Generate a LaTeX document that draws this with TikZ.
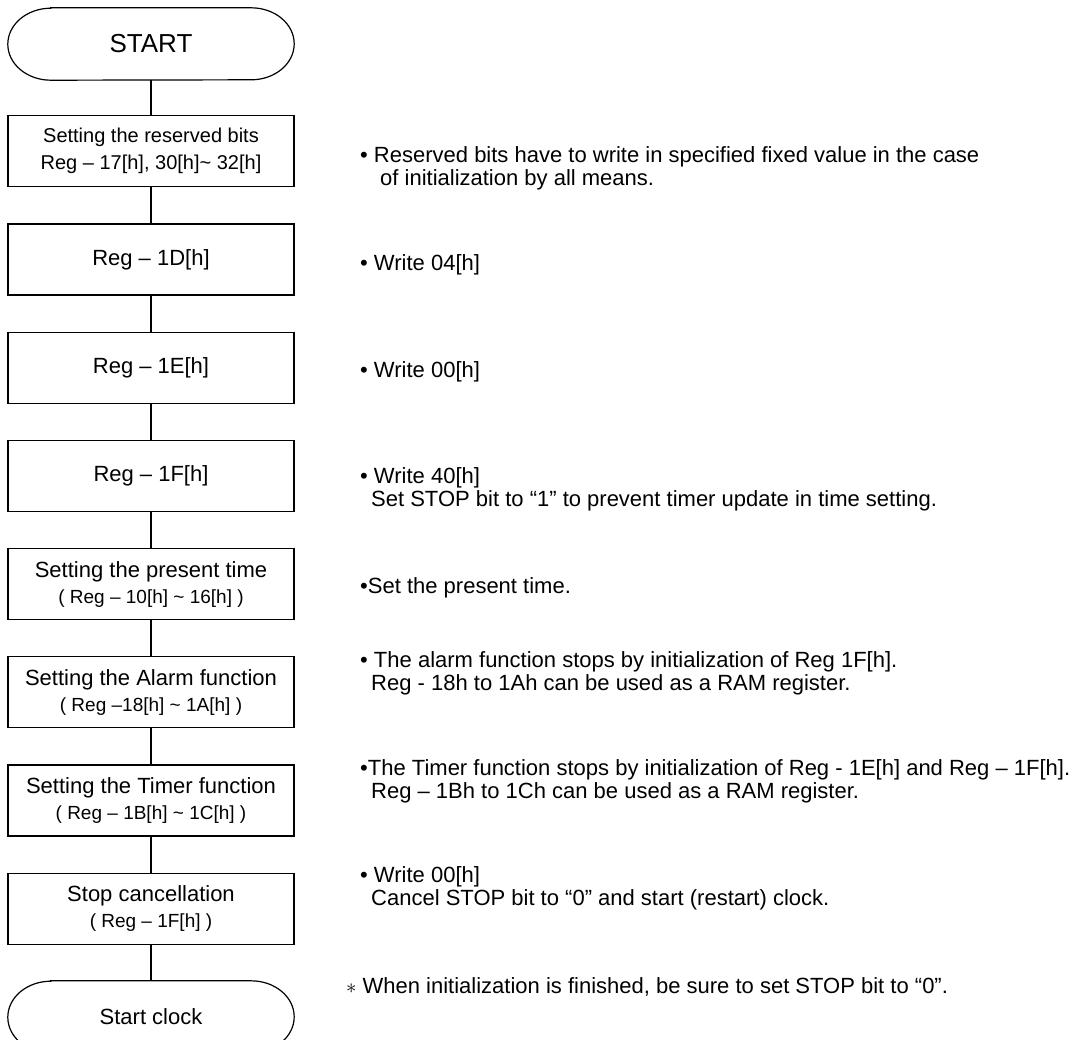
\documentclass[tikz,border=0pt]{standalone}
\usepackage{fontspec}
\setmainfont{Liberation Sans}
\usetikzlibrary{positioning}

\tikzset{
  stepbox/.style={draw, line width=1.2pt, minimum width=286pt, minimum height=71pt,
    inner sep=0pt, align=center, font=\fontsize{22}{26}\selectfont},
  term/.style={minimum width=286pt, minimum height=72pt, inner sep=0pt,
    font=\fontsize{22}{26}\selectfont},
  note/.style={anchor=west, inner sep=0pt, align=left, font=\fontsize{22}{23}\selectfont},
  flow/.style={line width=1.2pt},
}

% outline of a start/end terminal
\newcommand{\termshape}[1]{%
  \draw[flow] ([xshift=43pt]#1.north west) -- ([xshift=-43pt]#1.north east)
    arc[start angle=90, end angle=-90, x radius=43pt, y radius=36pt]
    -- ([xshift=43pt]#1.south west)
    arc[start angle=270, end angle=90, x radius=43pt, y radius=36pt] -- cycle;}

\begin{document}
\begin{tikzpicture}[node distance=36pt]
  \useasboundingbox (0,0) rectangle (1086pt,-1039pt);

  % flow
  \node[term, font=\fontsize{26}{30}\selectfont] (start) at (151pt,-44pt) {START};
  \termshape{start}
  \node[stepbox, below=35pt of start, font=\fontsize{20}{27}\selectfont] (resv)
    {Setting the reserved bits\\Reg – 17[h], 30[h]\textasciitilde{} 32[h]};
  \node[stepbox, below=of resv] (reg1d) {Reg – 1D[h]};
  \node[stepbox, below=of reg1d] (reg1e) {Reg – 1E[h]};
  \node[stepbox, below=of reg1e] (reg1f) {Reg – 1F[h]};
  \node[stepbox, below=of reg1f] (ptime)
    {Setting the present time\\{\fontsize{19}{24}\selectfont ( Reg – 10[h] \textasciitilde{} 16[h] )}};
  \node[stepbox, below=of ptime] (alarm)
    {Setting the Alarm function\\{\fontsize{19}{24}\selectfont ( Reg –18[h] \textasciitilde{} 1A[h] )}};
  \node[stepbox, below=of alarm] (timer)
    {Setting the Timer function\\{\fontsize{19}{24}\selectfont ( Reg – 1B[h] \textasciitilde{} 1C[h] )}};
  \node[stepbox, below=of timer] (stopc)
    {Stop cancellation\\{\fontsize{19}{24}\selectfont ( Reg – 1F[h] )}};
  \node[term, below=of stopc] (sclk) {Start clock};
  \termshape{sclk}

  \draw[flow] (start) -- (resv);
  \draw[flow] (resv) -- (reg1d);
  \draw[flow] (reg1d) -- (reg1e);
  \draw[flow] (reg1e) -- (reg1f);
  \draw[flow] (reg1f) -- (ptime);
  \draw[flow] (ptime) -- (alarm);
  \draw[flow] (alarm) -- (timer);
  \draw[flow] (timer) -- (stopc);
  \draw[flow] (stopc) -- (sclk);

  % notes
  \node[note] (n1) at (360pt,-168pt)
    {\textbullet\ Reserved bits have to write in specified fixed value in the case\\
     \hspace*{20pt}of initialization by all means.};
  \node[note] (n2) at (360pt,-265pt) {\textbullet\ Write 04[h]};
  \node[note] (n3) at (360pt,-372pt) {\textbullet\ Write 00[h]};
  \node[note] (n4) at (360pt,-489pt)
    {\textbullet\ Write 40[h]\\
     \hspace*{11pt}Set STOP bit to “1” to prevent timer update in time setting.};
  \node[note] (n5) at (360pt,-588pt) {\textbullet Set the present time.};
  \node[note] (n6) at (360pt,-673pt)
    {\textbullet\ The alarm function stops by initialization of Reg 1F[h].\\
     \hspace*{11pt}Reg - 18h to 1Ah can be used as a RAM register.};
  \node[note] (n7) at (360pt,-781pt)
    {\textbullet The Timer function stops by initialization of Reg - 1E[h] and Reg – 1F[h].\\
     \hspace*{11pt}Reg – 1Bh to 1Ch can be used as a RAM register.};
  \node[note] (n8) at (360pt,-888pt)
    {\textbullet\ Write 00[h]\\
     \hspace*{11pt}Cancel STOP bit to “0” and start (restart) clock.};
  \node[note] (n9) at (346pt,-987pt)
    {$\ast$ When initialization is finished, be sure to set STOP bit to “0”.};
\end{tikzpicture}
\end{document}
